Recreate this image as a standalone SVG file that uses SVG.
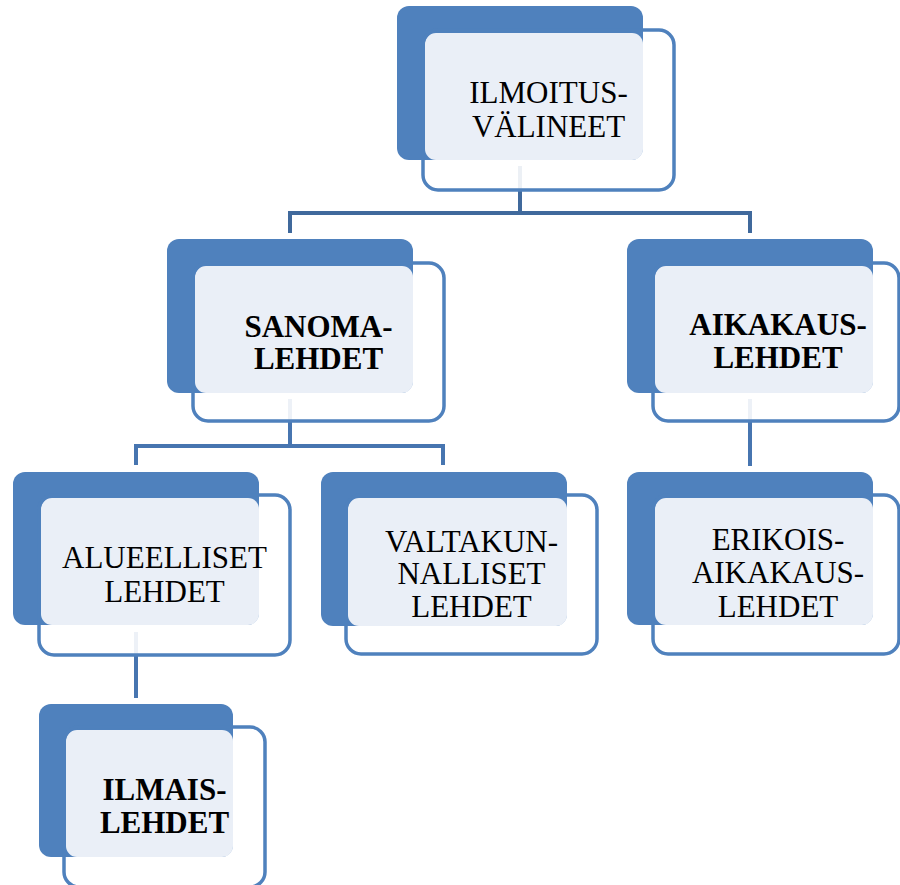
<svg xmlns="http://www.w3.org/2000/svg" width="900" height="885" viewBox="0 0 900 885">
  <style>
    .bg { fill: #ffffff; }
    .wire { fill: none; stroke-width: 4; stroke-linejoin: miter; stroke-linecap: butt; }
    .wire-top { stroke: #40699c; }
    .wire-sub { stroke: #4775b0; }
    .back { fill: #4f81bd; }
    .veil { fill: #ffffff; fill-opacity: 0.9; }
    .pane { fill: #eaeff7; }
    .frame { fill: none; stroke: #4f81bd; stroke-width: 3.5; }
    .lbl { font-family: "Liberation Serif", "Times New Roman", serif; font-size: 31px; fill: #000000; text-anchor: middle; }
    .b { font-weight: bold; }
  </style>

  <rect class="bg" x="0" y="0" width="900" height="885"/>

  <!-- connectors -->
  <g id="connectors">
    <path class="wire wire-top" d="M520,166 V213"/>
    <path class="wire wire-top" d="M290,233 V213 H750 V233"/>
    <path class="wire wire-sub" d="M290,399 V446"/>
    <path class="wire wire-sub" d="M136,465 V446 H443 V465"/>
    <path class="wire wire-sub" d="M750,399 V466"/>
    <path class="wire wire-sub" d="M136,632 V698"/>
  </g>

  <!-- ILMOITUSVÄLINEET -->
  <g id="node-ilmoitusvalineet">
    <rect class="veil" x="423" y="30" width="251" height="160" rx="15"/>
    <rect class="back" x="397" y="6" width="246" height="154" rx="12"/>
    <rect class="pane" x="425" y="33" width="218" height="127" rx="11"/>
    <rect class="frame" x="423" y="30" width="251" height="160" rx="15"/>
    <text class="lbl" x="548.5" y="103">ILMOITUS-</text>
    <text class="lbl" x="548.5" y="137">VÄLINEET</text>
  </g>

  <!-- SANOMALEHDET -->
  <g id="node-sanomalehdet">
    <rect class="veil" x="193" y="263" width="251" height="158" rx="15"/>
    <rect class="back" x="167" y="239" width="246" height="154" rx="12"/>
    <rect class="pane" x="195" y="266" width="218" height="127" rx="11"/>
    <rect class="frame" x="193" y="263" width="251" height="158" rx="15"/>
    <text class="lbl b" x="318.5" y="337">SANOMA-</text>
    <text class="lbl b" x="318.5" y="368.5">LEHDET</text>
  </g>

  <!-- AIKAKAUSLEHDET -->
  <g id="node-aikakauslehdet">
    <rect class="veil" x="653" y="263" width="246" height="158" rx="15"/>
    <rect class="back" x="627" y="239" width="246" height="154" rx="12"/>
    <rect class="pane" x="655" y="266" width="218" height="127" rx="11"/>
    <rect class="frame" x="653" y="263" width="246" height="158" rx="15"/>
    <text class="lbl b" x="778" y="335">AIKAKAUS-</text>
    <text class="lbl b" x="778" y="368">LEHDET</text>
  </g>

  <!-- ALUEELLISET LEHDET -->
  <g id="node-alueelliset">
    <rect class="veil" x="39" y="495" width="251" height="160" rx="15"/>
    <rect class="back" x="13" y="472" width="246" height="153" rx="12"/>
    <rect class="pane" x="41" y="498" width="218" height="127" rx="11"/>
    <rect class="frame" x="39" y="495" width="251" height="160" rx="15"/>
    <text class="lbl" x="164.5" y="568">ALUEELLISET</text>
    <text class="lbl" x="164.5" y="602">LEHDET</text>
  </g>

  <!-- VALTAKUNNALLISET LEHDET -->
  <g id="node-valtakunnalliset">
    <rect class="veil" x="346" y="495" width="251" height="159" rx="15"/>
    <rect class="back" x="321" y="472" width="246" height="154" rx="12"/>
    <rect class="pane" x="348" y="498" width="219" height="128" rx="11"/>
    <rect class="frame" x="346" y="495" width="251" height="159" rx="15"/>
    <text class="lbl" x="471.5" y="552">VALTAKUN-</text>
    <text class="lbl" x="471.5" y="584">NALLISET</text>
    <text class="lbl" x="471.5" y="617">LEHDET</text>
  </g>

  <!-- ERIKOISAIKAKAUSLEHDET -->
  <g id="node-erikoisaikakauslehdet">
    <rect class="veil" x="653" y="495" width="246" height="159" rx="15"/>
    <rect class="back" x="627" y="472" width="246" height="153" rx="12"/>
    <rect class="pane" x="655" y="498" width="218" height="127" rx="11"/>
    <rect class="frame" x="653" y="495" width="246" height="159" rx="15"/>
    <text class="lbl" x="778" y="550">ERIKOIS-</text>
    <text class="lbl" x="778" y="583">AIKAKAUS-</text>
    <text class="lbl" x="778" y="617">LEHDET</text>
  </g>

  <!-- ILMAISLEHDET -->
  <g id="node-ilmaislehdet">
    <rect class="veil" x="64" y="727" width="201" height="160" rx="15"/>
    <rect class="back" x="39" y="704" width="194" height="153" rx="12"/>
    <rect class="pane" x="66" y="730" width="167" height="127" rx="11"/>
    <rect class="frame" x="64" y="727" width="201" height="160" rx="15"/>
    <text class="lbl b" x="164.5" y="800">ILMAIS-</text>
    <text class="lbl b" x="164.5" y="833">LEHDET</text>
  </g>
</svg>
